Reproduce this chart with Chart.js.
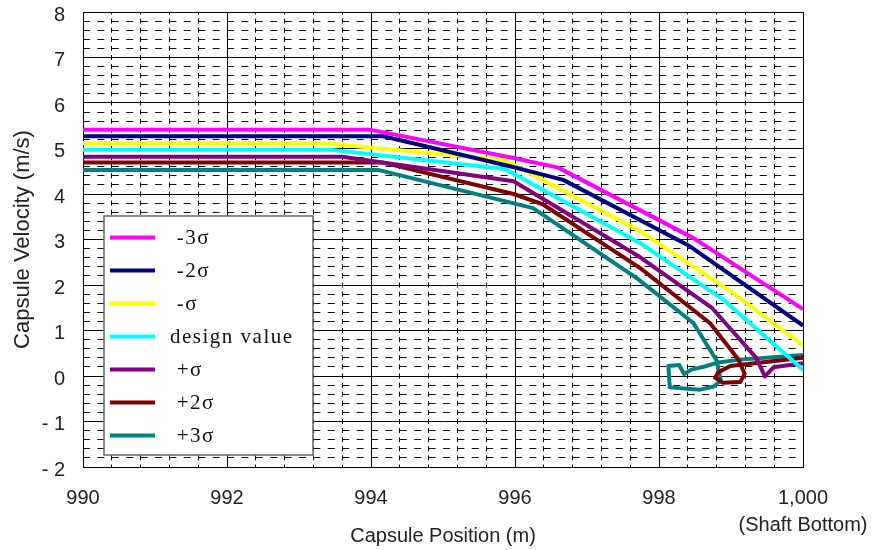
<!DOCTYPE html>
<html>
<head>
<meta charset="utf-8">
<script src="https://cdn.jsdelivr.net/npm/chart.js@4.4.1/dist/chart.umd.min.js"></script>
<style>
  html, body { margin: 0; padding: 0; background: #fff; }
</style>
</head>
<body>
<canvas id="grafico" width="889" height="550"></canvas>
<script>
// legend labels and colours, in drawing order
const seriesNames = [" -3σ", " -2σ", " -σ", "design value", " +σ", " +2σ", " +3σ"];
const seriesColors = ["#ff00ff", "#000080", "#ffff00", "#00ffff", "#800080", "#800000", "#008080"];

// capsule position (m) / velocity (m/s) for each case
const posMinus3 = [990, 994.0, 995.98, 996.6, 998.48, 1000];
const velMinus3 = [5.41, 5.41, 4.79, 4.58, 3.03, 1.47];
const posMinus2 = [990, 994.17, 995.93, 996.67, 998.43, 1000];
const velMinus2 = [5.27, 5.27, 4.61, 4.31, 2.85, 1.11];
const posMinus1 = [990, 993.3, 995.85, 997.74, 999.03, 1000];
const velMinus1 = [5.12, 5.12, 4.75, 3.18, 1.82, 0.67];
const posDesign = [990, 993.45, 995.86, 997.74, 998.89, 1000];
const velDesign = [4.97, 4.97, 4.55, 2.92, 1.68, 0.14];
const posPlus1 = [990, 993.6, 995.98, 997.7, 998.74, 999.35, 999.47, 999.59, 1000];
const velPlus1 = [4.82, 4.82, 4.28, 2.65, 1.49, 0.40, -0.01, 0.19, 0.28];
const posPlus2 = [990, 994.17, 995.98, 996.39, 997.74, 998.71, 999.1, 999.19, 999.13, 998.89, 998.78, 998.82, 998.99, 1000];
const velPlus2 = [4.69, 4.69, 4.0, 3.77, 2.37, 1.16, 0.37, 0.05, -0.13, -0.15, -0.04, 0.08, 0.22, 0.40];
const posPlus3 = [990, 994.1, 996.25, 997.7, 998.48, 998.8, 998.86, 998.76, 998.57, 998.15, 998.13, 998.28, 998.35, 998.45, 998.66, 998.8, 999.13, 1000];
const velPlus3 = [4.53, 4.53, 3.69, 2.14, 1.16, 0.34, -0.10, -0.23, -0.30, -0.25, 0.22, 0.24, 0.04, 0.14, 0.22, 0.29, 0.36, 0.46];

// tick labels
const xTickLabels = ["990", "992", "994", "996", "998", ["1,000", "(Shaft Bottom)"]];
const yTickLabels = ["- 2", "- 1", "0", "1", "2", "3", "4", "5", "6", "7", "8"];

const seriesPos = [posMinus3, posMinus2, posMinus1, posDesign, posPlus1, posPlus2, posPlus3];
const seriesVel = [velMinus3, velMinus2, velMinus1, velDesign, velPlus1, velPlus2, velPlus3];

const datasets = seriesNames.map((nome, i) => ({
  label: nome,
  data: seriesPos[i].map((x, j) => ({ x: x, y: seriesVel[i][j] })),
  borderColor: seriesColors[i],
  backgroundColor: seriesColors[i],
  borderWidth: 4,
  pointRadius: 0,
  showLine: true,
  tension: 0,
  borderJoinStyle: "round",
  xAxisID: "x",
  yAxisID: "y",
}));

// is the value on a major grid line?
const naGrade = (v, passo) => Math.abs(v / passo - Math.round(v / passo)) < 1e-6;

// fixed axis sizes so the plot area sits where it does in the figure
const fixarTamanho = (largura, altura) => (s) => {
  if (largura !== null) s.width = largura;
  if (altura !== null) s.height = altura;
  s.paddingTop = 0;
  s.paddingBottom = 0;
  s.paddingLeft = 0;
  s.paddingRight = 0;
};

// legend drawn inside the plot, as in the original figure
const legendaInterna = {
  id: "legendaInterna",
  afterDraw(chart) {
    const ctx = chart.ctx;
    const area = chart.chartArea;
    const left = area.left + 21;
    const top = area.top + 204;
    const w = 209;
    const h = 239;
    ctx.save();
    ctx.fillStyle = "#fff";
    ctx.fillRect(left, top, w, h);
    ctx.strokeStyle = "#666";
    ctx.lineWidth = 1.5;
    ctx.strokeRect(left, top, w, h);
    ctx.font = "21px 'Liberation Serif', 'Times New Roman', serif";
    ctx.fillStyle = "#111";
    ctx.textBaseline = "alphabetic";
    if ("letterSpacing" in ctx) ctx.letterSpacing = "1.5px";
    chart.data.datasets.forEach((ds, i) => {
      const y = top + 21.5 + i * 33;
      ctx.strokeStyle = ds.borderColor;
      ctx.lineWidth = 4;
      ctx.beginPath();
      ctx.moveTo(left + 6, y);
      ctx.lineTo(left + 51, y);
      ctx.stroke();
      ctx.fillText(ds.label, left + 66, y + 6);
    });
    ctx.restore();
  },
};

new Chart(document.getElementById("grafico"), {
  type: "scatter",
  data: { datasets: datasets },
  options: {
    responsive: false,
    devicePixelRatio: 1,
    animation: false,
    layout: { padding: { top: 12, right: 86, bottom: 0, left: 0 } },
    plugins: {
      legend: { display: false },
      tooltip: { enabled: false },
    },
    scales: {
      xMinor: {
        type: "linear",
        position: "bottom",
        min: 990,
        max: 1000,
        ticks: { display: false, stepSize: 0.4 },
        grid: {
          drawTicks: false,
          lineWidth: 1,
          color: (c) => (naGrade(c.tick.value, 2) ? "rgba(0,0,0,0)" : "#000"),
        },
        border: { display: false, dash: [5, 4.1], dashOffset: 2.5 },
        afterFit: fixarTamanho(null, 0),
      },
      yMinor: {
        type: "linear",
        position: "left",
        min: -2,
        max: 8,
        ticks: { display: false, stepSize: 0.2 },
        grid: {
          drawTicks: false,
          color: (c) => (naGrade(c.tick.value, 1) ? "rgba(0,0,0,0)" : "#111"),
        },
        border: { display: false, dash: [7, 7.4] },
        afterFit: fixarTamanho(0, null),
      },
      x: {
        type: "linear",
        position: "bottom",
        min: 990,
        max: 1000,
        ticks: {
          stepSize: 2,
          padding: 18,
          color: "#222",
          font: { family: "'Liberation Sans', Arial, sans-serif", size: 20, lineHeight: 1.35 },
          callback: (v) => xTickLabels[Math.round((v - 990) / 2)],
        },
        grid: { color: "#000", lineWidth: 1, drawTicks: false },
        border: { display: true, color: "#000", width: 1 },
        title: {
          display: true,
          text: "Capsule Position (m)",
          color: "#222",
          font: { family: "'Liberation Sans', Arial, sans-serif", size: 20 },
          padding: { top: 0, bottom: 2 },
        },
        afterFit: fixarTamanho(null, 83),
      },
      y: {
        type: "linear",
        position: "left",
        min: -2,
        max: 8,
        ticks: {
          stepSize: 1,
          padding: 18,
          labelOffset: 3,
          color: "#222",
          font: { family: "'Liberation Sans', Arial, sans-serif", size: 20 },
          callback: (v) => yTickLabels[Math.round(v + 2)],
        },
        grid: { color: "#000", lineWidth: 1, drawTicks: false },
        border: { display: true, color: "#000", width: 1 },
        title: {
          display: true,
          text: "Capsule Velocity (m/s)",
          color: "#222",
          font: { family: "'Liberation Sans', Arial, sans-serif", size: 22 },
          padding: { top: 10, bottom: 0 },
        },
        afterFit: fixarTamanho(83, null),
      },
    },
  },
  plugins: [legendaInterna],
});
</script>
</body>
</html>
